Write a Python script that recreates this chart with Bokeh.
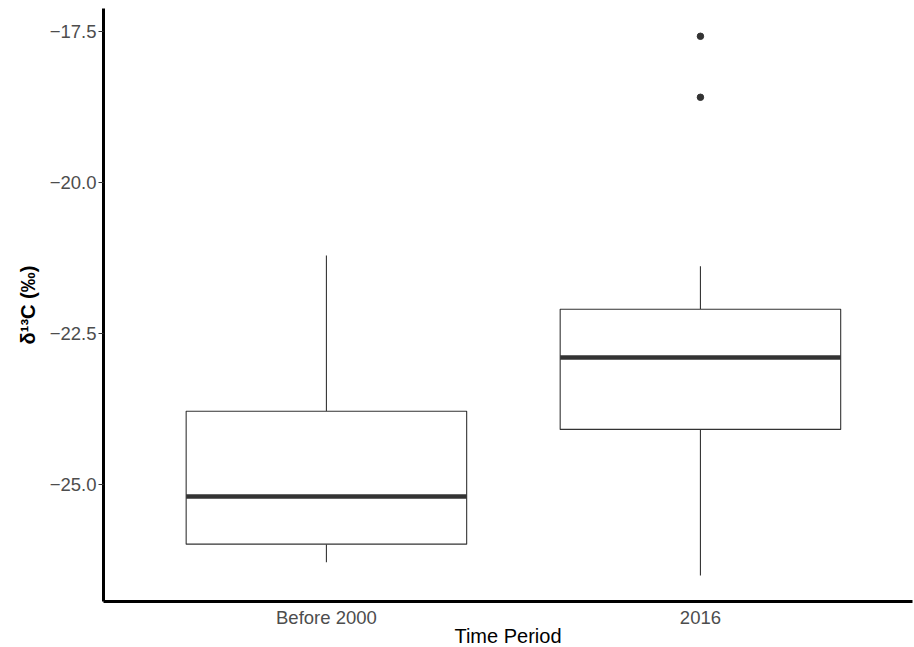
from bokeh.plotting import figure
from bokeh.models import Range1d, FixedTicker
from bokeh.embed import file_html
from bokeh.resources import INLINE

# ---- data ----
categories = ["Before 2000", "2016"]
lower_whisker = [-26.29, -26.51]
q1 = [-25.99, -24.09]
median = [-25.20, -22.90]
q3 = [-23.79, -22.10]
upper_whisker = [-21.21, -21.39]
outlier_cat = ["2016", "2016"]
outlier_val = [-17.58, -18.59]
y_ticks = [-25.0, -22.5, -20.0, -17.5]

FONT = "Liberation Sans"
DARK = "#333333"

xpos = [i + 1 for i in range(len(categories))]
box_w = 0.75
half = box_w / 2

p = figure(frame_width=809, frame_height=593, output_backend="svg", toolbar_location=None,
           x_range=Range1d(0.404, 2.567), y_range=Range1d(-26.94, -17.12),
           min_border_left=103, min_border_right=2, min_border_top=8,
           min_border_bottom=0)
p.outline_line_color = None
p.background_fill_color = "white"
p.border_fill_color = "white"
p.xgrid.grid_line_color = None
p.ygrid.grid_line_color = None

# whiskers
p.segment(x0=xpos, y0=q3, x1=xpos, y1=upper_whisker, line_color=DARK, line_width=1.1)
p.segment(x0=xpos, y0=q1, x1=xpos, y1=lower_whisker, line_color=DARK, line_width=1.1)
# boxes
p.vbar(x=xpos, width=box_w, bottom=q1, top=q3, fill_color="white",
       line_color=DARK, line_width=1.1)
# medians
p.segment(x0=[x - half for x in xpos], y0=median, x1=[x + half for x in xpos],
          y1=median, line_color=DARK, line_width=4.5)
# outliers
ox = [categories.index(c) + 1 for c in outlier_cat]
p.scatter(x=ox, y=outlier_val, size=6.5, fill_color=DARK, line_color=DARK)

# axes
p.xaxis.ticker = FixedTicker(ticks=xpos)
p.xaxis.major_label_overrides = {x: c for x, c in zip(xpos, categories)}
p.yaxis.ticker = FixedTicker(ticks=y_ticks)
p.yaxis.major_label_overrides = {t: ("%.1f" % t).replace("-", "\u2212") for t in y_ticks}

for ax in (p.xaxis[0], p.yaxis[0]):
    ax.axis_line_color = "black"
    ax.axis_line_width = 3
    ax.minor_tick_line_color = None
    ax.major_label_text_font = FONT
    ax.major_label_text_color = "#4D4D4D"
    ax.major_label_text_font_size = "18.5px"
    ax.axis_label_text_font = FONT
    ax.axis_label_text_color = "black"
    ax.axis_label_text_font_size = "20px"

p.xaxis.major_tick_line_color = None
p.xaxis.major_tick_out = 0
p.xaxis.major_tick_in = 0
p.xaxis.major_label_standoff = 5
p.xaxis.axis_label = "Time Period"
p.xaxis.axis_label_standoff = -6
p.xaxis.axis_label_text_font_style = "normal"

p.yaxis.major_tick_line_color = "#333333"
p.yaxis.major_tick_line_width = 1.1
p.yaxis.major_tick_out = 5
p.yaxis.major_tick_in = 0
p.yaxis.major_label_standoff = 2
p.yaxis.axis_label = "\u03b4\u00b9\u00b3C (\u2030)"
p.yaxis.axis_label_standoff = 8
p.yaxis.axis_label_text_font_style = "bold"

open("out.html", "w").write(file_html(p, INLINE))
